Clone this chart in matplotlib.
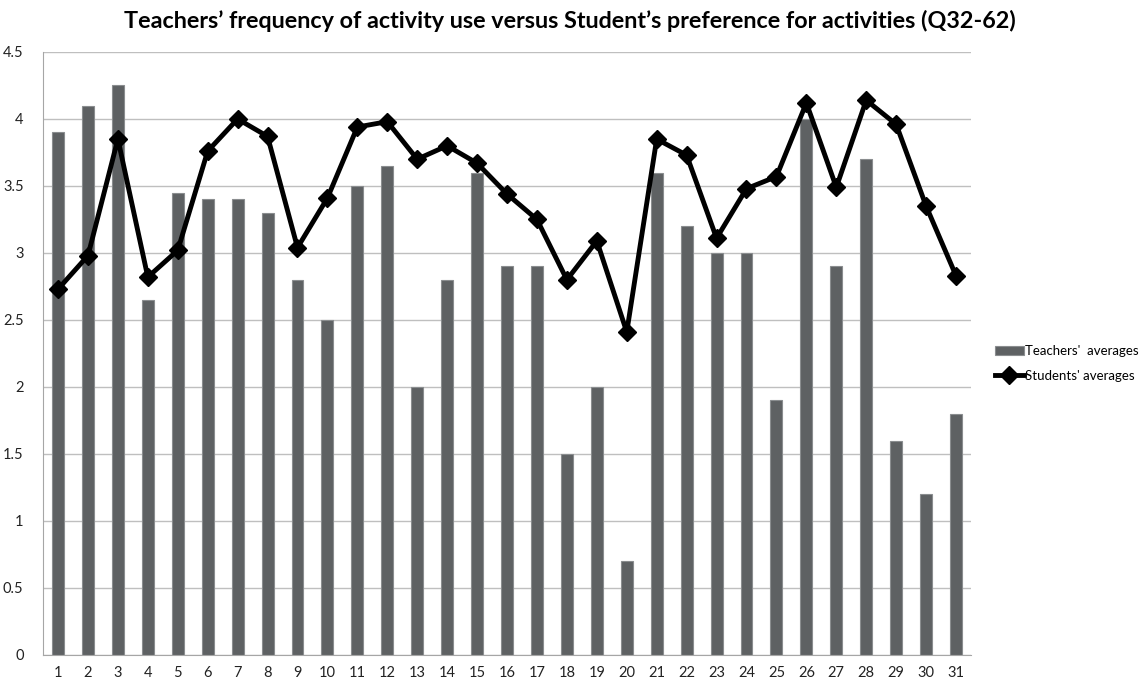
import numpy as np
import matplotlib.pyplot as plt

plt.rcParams['font.family'] = ['Lato', 'DejaVu Sans']

questions = [str(i) for i in range(1, 32)]
teachers = [3.9, 4.1, 4.25, 2.65, 3.45, 3.4, 3.4, 3.3, 2.8, 2.5,
            3.5, 3.65, 2.0, 2.8, 3.6, 2.9, 2.9, 1.5, 2.0, 0.7,
            3.6, 3.2, 3.0, 3.0, 1.9, 4.0, 2.9, 3.7, 1.6, 1.2, 1.8]
students = [2.73, 2.98, 3.85, 2.82, 3.02, 3.76, 4.0, 3.87, 3.04, 3.41,
            3.94, 3.98, 3.70, 3.80, 3.67, 3.44, 3.25, 2.80, 3.09, 2.41,
            3.85, 3.73, 3.11, 3.48, 3.57, 4.12, 3.49, 4.14, 3.96, 3.35, 2.83]

fig = plt.figure(figsize=(11.39, 6.82), dpi=100)
ax = fig.add_axes([0.0378, 0.0396, 0.8147, 0.8842])

x = np.arange(len(questions))
bars = ax.bar(x, teachers, width=0.4, color='#5e6163', edgecolor='#8a8d8f', linewidth=0.8,
              label="Teachers'  averages", zorder=2)
line, = ax.plot(x, students, color='black', linewidth=3.5, marker='D', markersize=9,
                markerfacecolor='black', label="Students' averages", zorder=3)

ax.set_ylim(0, 4.5)
ax.set_xlim(-0.5, len(questions) - 0.5)
ax.set_yticks(np.arange(0, 4.51, 0.5))
ax.set_yticklabels(['0', '0.5', '1', '1.5', '2', '2.5', '3', '3.5', '4', '4.5'])
ax.set_xticks(x)
ax.set_xticklabels(questions)
ax.tick_params(length=0, labelsize=10.5, colors='#222222')
ax.tick_params(axis='x', pad=8)
ax.tick_params(axis='y', pad=14)
ax.yaxis.grid(True, color='#bfbfbf', linewidth=1, zorder=0)
ax.set_axisbelow(True)
for s in ['top', 'right']:
    ax.spines[s].set_visible(False)
for s in ['left', 'bottom']:
    ax.spines[s].set_color('#a6a6a6')

fig.suptitle('Teachers\u2019 frequency of activity use versus Student\u2019s preference for activities (Q32-62)',
             fontsize=16.8, fontweight='bold', x=0.5, y=0.985)

fig.legend(handles=[bars, line], loc='center left', bbox_to_anchor=(0.863, 0.467), frameon=False,
           fontsize=9.5, handlelength=2.2, handletextpad=0.1, labelspacing=1.0)

fig.savefig('out.png', dpi=100)
